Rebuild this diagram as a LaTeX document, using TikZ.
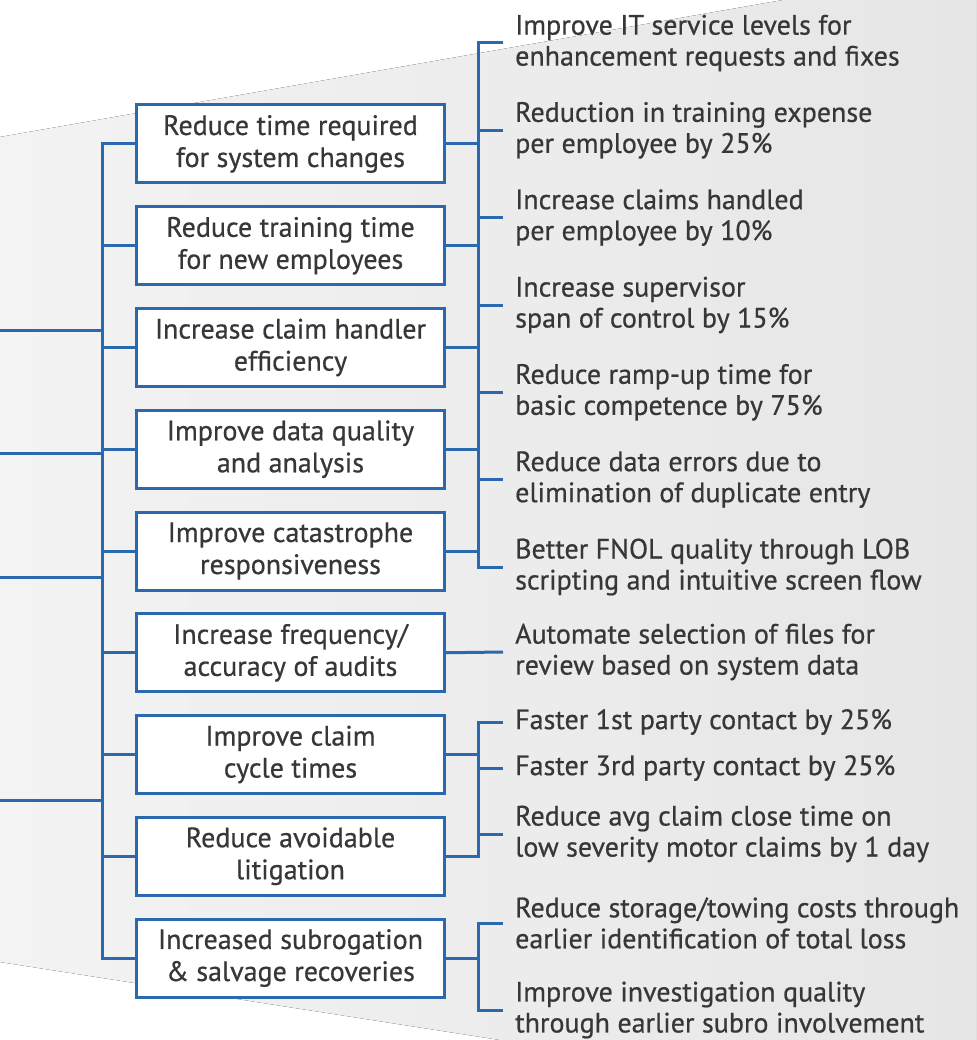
\documentclass[tikz,border=0pt]{standalone}
\usepackage{fontspec}
\setmainfont{PT Sans}[FakeBold=0.6]
\definecolor{lineblue}{RGB}{44,104,174}
\definecolor{txt}{RGB}{55,55,55}
\definecolor{bgL}{RGB}{243,243,243}
\definecolor{bgR}{RGB}{230,230,230}
\begin{document}
\begin{tikzpicture}[x=1pt,y=-1pt,
  conn/.style={draw=lineblue,line width=3pt},
  goalbox/.style={draw=lineblue,line width=3pt,fill=white,minimum width=308pt,minimum height=78pt,
    align=center,text=txt,font=\fontsize{28}{32}\selectfont,inner sep=0pt},
  item/.style={anchor=west,align=left,text=txt,font=\fontsize{28}{31}\selectfont,inner sep=0pt}]
\useasboundingbox (0,0) rectangle (976,1040);
\fill[left color=bgL,right color=bgR] (0,137) -- (783,0) -- (976,0) -- (976,1040) -- (500,1040) -- (0,962) -- cycle;

\coordinate (sp) at (102,0);
\coordinate (br) at (478,0);

% goal boxes
\node[goalbox] (b1) at (290.5,144) {Reduce time required\\for system changes};
\node[goalbox] (b2) at (290.5,245.75) {Reduce training time\\for new employees};
\node[goalbox] (b3) at (290.5,347.5) {Increase claim handler\\efficiency};
\node[goalbox] (b4) at (290.5,449.25) {Improve data quality\\and analysis};
\node[goalbox] (b5) at (290.5,551) {Improve catastrophe\\responsiveness};
\node[goalbox] (b6) at (290.5,652.75) {Increase frequency/\\accuracy of audits};
\node[goalbox] (b7) at (290.5,754.5) {Improve claim\\cycle times};
\node[goalbox] (b8) at (290.5,856.25) {Reduce avoidable\\litigation};
\node[goalbox] (b9) at (290.5,958) {Increased subrogation\\\& salvage recoveries};

% right items
\node[item] (t1) at (515,43) {Improve IT service levels for\\enhancement requests and fixes};
\node[item] (t2) at (515,130.3) {Reduction in training expense\\per employee by 25\%};
\node[item] (t3) at (515,217.6) {Increase claims handled\\per employee by 10\%};
\node[item] (t4) at (515,305) {Increase supervisor\\span of control by 15\%};
\node[item] (t5) at (515,392.3) {Reduce ramp-up time for\\basic competence by 75\%};
\node[item] (t6) at (515,479.6) {Reduce data errors due to\\elimination of duplicate entry};
\node[item] (t7) at (515,567) {Better FNOL quality through LOB\\scripting and intuitive screen flow};
\node[item] (t8) at (515,652) {Automate selection of files for\\review based on system data};
\node[item] (t9) at (515,722) {Faster 1st party contact by 25\%};
\node[item] (t10) at (515,768) {Faster 3rd party contact by 25\%};
\node[item] (t11) at (515,834) {Reduce avg claim close time on\\low severity motor claims by 1 day};
\node[item] (t12) at (515,923) {Reduce storage/towing costs through\\earlier identification of total loss};
\node[item] (t13) at (515,1010) {Improve investigation quality\\through earlier subro involvement};

% left stubs and spine
\coordinate (L1) at (0,330);
\coordinate (L2) at (0,453);
\coordinate (L3) at (0,577);
\coordinate (L4) at (0,800);
\foreach \c in {L1,L2,L3,L4} \draw[conn] (\c) -- (\c -| sp);
\draw[conn] (b1.west) -- (b1.west -| sp) -- (b9.west -| sp) -- (b9.west);
\foreach \b in {b2,b3,b4,b5,b6,b7,b8} \draw[conn] (\b.west) -- (\b.west -| sp);

% right bracket 1
\draw[conn] ([xshift=-12pt]t1.west) -| (br |- t7.west) -- ([xshift=-12pt]t7.west);
\foreach \t in {t2,t3,t4,t5,t6} \draw[conn] ([xshift=-12pt]\t.west) -- (\t.west -| br);
\foreach \b in {b1,b2,b3,b4,b5} \draw[conn] (\b.east) -- (\b.east -| br);

% single
\draw[conn] (b6.east) -- ([xshift=-12pt]t8.west);

% bracket 2
\draw[conn] ([xshift=-12pt]t9.west) -| (br |- b8.east) -- (b8.east);
\draw[conn] ([xshift=-12pt]t10.west) -- (t10.west -| br);
\draw[conn] ([xshift=-12pt]t11.west) -- (t11.west -| br);
\draw[conn] (b7.east) -- (b7.east -| br);

% bracket 3
\draw[conn] ([xshift=-12pt]t12.west) -| (br |- t13.west) -- ([xshift=-12pt]t13.west);
\draw[conn] (b9.east) -- (b9.east -| br);
\end{tikzpicture}
\end{document}
